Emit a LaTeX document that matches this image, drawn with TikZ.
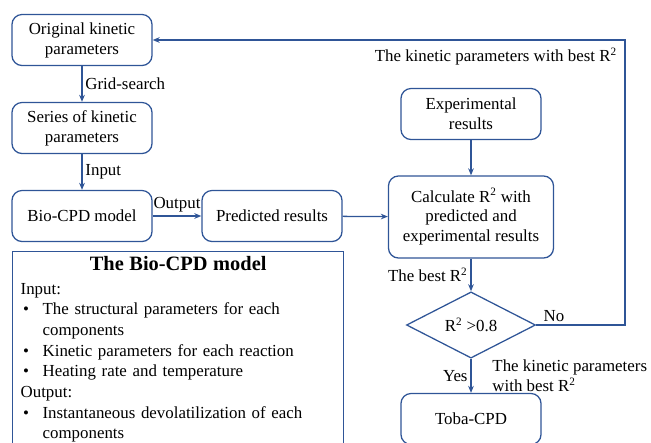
\documentclass[tikz,border=0pt]{standalone}
\usepackage{fontspec}
\setmainfont{Liberation Serif}
\usetikzlibrary{arrows.meta, shapes.geometric}
\definecolor{FlowBlue}{HTML}{2F5597}
\newcommand{\bitem}[1]{\par\hangindent=0.55cm\hangafter=1\noindent\makebox[0.55cm][l]{\hspace{0.06cm}\textbullet}#1\par}

\begin{document}
\begin{tikzpicture}[x=0.025cm, y=-0.025cm, >={Stealth[length=5pt,width=4pt]},
    fstep/.style={draw=FlowBlue, line width=0.9pt, rounded corners=0.25cm, align=center,
                  minimum width=3.5cm, minimum height=1.275cm, font=\fontsize{12}{14.2}\selectfont},
    fcheck/.style={draw=FlowBlue, line width=0.9pt, diamond, inner sep=0pt,
                  minimum width=3.225cm, minimum height=1.575cm, font=\fontsize{12}{14.2}\selectfont},
    flink/.style={->, draw=FlowBlue, line width=0.9pt},
    flabel/.style={font=\fontsize{12}{14.2}\selectfont, inner sep=2pt}]
  \useasboundingbox (0,0) rectangle (651,442);
  \clip (0,0) rectangle (651,442);
  \node[fstep] (orig) at (82,40) {Original kinetic\\parameters};
  \node[fstep] (series) at (82,128) {Series of kinetic\\parameters};
  \node[fstep] (bio) at (82,216) {Bio-CPD model};
  \node[fstep] (pred) at (272,216) {Predicted results};
  \node[fstep] (exper) at (471,114) {Experimental\\results};
  \node[fstep, minimum width=4.125cm, minimum height=2.05cm] (calc) at (471,217) {Calculate R\textsuperscript{2} with\\predicted and\\experimental results};
  \node[fcheck] (check) at (471,325) {R\textsuperscript{2} >0.8};
  \node[fstep] (toba) at (471,419) {Toba-CPD};
  \coordinate (loopa) at (625,325);
  \coordinate (loopb) at (625,40);
  \draw[flink] (orig) -- node[flabel, right] {Grid-search} (series);
  \draw[flink] (series) -- node[flabel, right] {Input} (bio);
  \draw[flink] (bio) -- node[flabel, above] {Output} (pred);
  \draw[flink] (pred) -- (calc);
  \draw[flink] (exper) -- (calc);
  \draw[flink] (calc) -- node[flabel, left] {The best R\textsuperscript{2}} (check);
  \draw[flink] (check) -- node[flabel, left] {Yes}
    node[flabel, right, align=left, xshift=0.45cm] {The kinetic parameters\\with best R\textsuperscript{2}} (toba);
  \draw[flink] (check.east) -- node[flabel, above, pos=0.2] {No} (loopa) -- (loopb)
    -- node[flabel, pos=0.01, anchor=north east, yshift=-3pt] {The kinetic parameters with best R\textsuperscript{2}} (orig.east);
  \node[draw=FlowBlue, line width=0.9pt, anchor=north west, text width=7.875cm,
        inner xsep=0.2cm, inner ysep=0.12cm,
        font=\fontsize{12}{14.7}\selectfont] (box) at (12,251)
    {\centering{\fontsize{14.5}{17}\selectfont\bfseries The Bio-CPD model}\par\vspace{2pt}
     \raggedright\noindent Input:
     \bitem{The structural parameters for each\newline components}
     \bitem{Kinetic parameters for each reaction}
     \bitem{Heating rate and temperature}
     \noindent Output:
     \bitem{Instantaneous devolatilization of each\newline components\strut}};
\end{tikzpicture}
\end{document}
